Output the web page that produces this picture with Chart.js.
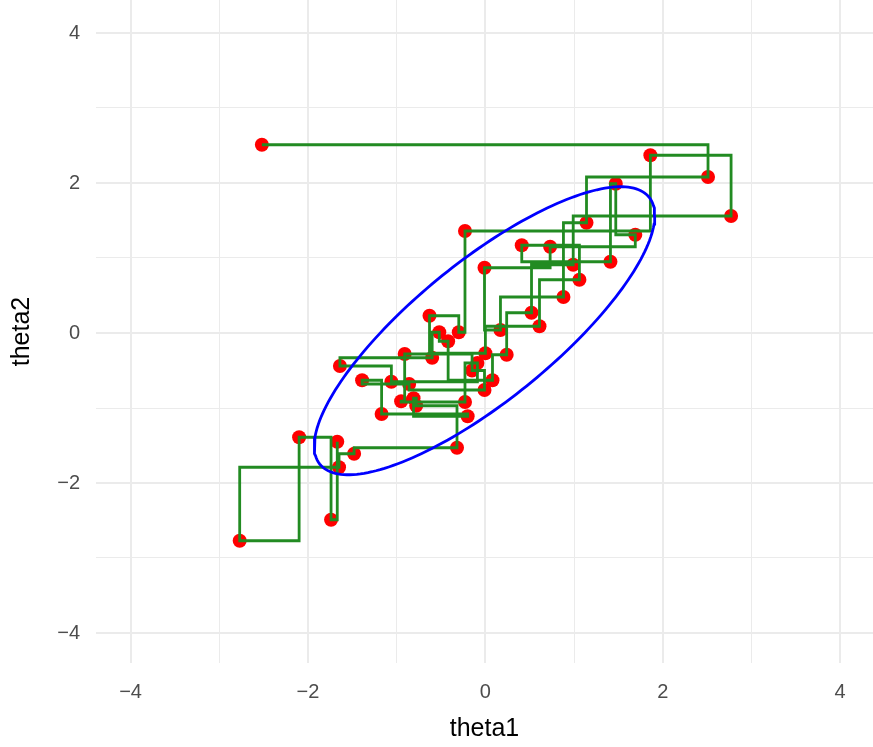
<!DOCTYPE html>
<html>
<head>
<meta charset="utf-8">
<script src="https://cdn.jsdelivr.net/npm/chart.js@4/dist/chart.umd.min.js"></script>
<style>
html,body{margin:0;padding:0;background:#fff;}
#wrap{width:873px;height:747px;position:relative;}
</style>
</head>
<body>
<div id="wrap"><canvas id="c" width="873" height="747"></canvas></div>
<script>
// Gibbs sampler chain (in sampling order)
const theta1 = [-2.52, 2.51, 1.14, 0.88, 0.17, -0.01, 0.73, 1.69, 1.47, 1.41,
  0.41, 1.06, 0.61, 0.00, -0.63, -0.30, -0.23, 1.86, 2.77, 0.99,
  0.52, 0.24, 0.08, -0.42, -0.52, -0.60, -1.64, -1.06, -0.09, -0.23,
  -0.95, -0.91, -0.15, -0.01, -0.86, -1.39, -1.17, -0.20, -0.81, -0.78,
  -0.32, -1.48, -1.65, -2.77, -2.10, -1.74, -1.67];
const theta2 = [2.51, 2.08, 1.47, 0.48, 0.04, 0.87, 1.15, 1.31, 1.99, 0.95,
  1.17, 0.71, 0.09, -0.27, 0.23, 0.01, 1.36, 2.37, 1.56, 0.91,
  0.27, -0.29, -0.63, -0.11, 0.01, -0.33, -0.44, -0.65, -0.40, -0.92,
  -0.91, -0.28, -0.50, -0.76, -0.68, -0.63, -1.08, -1.11, -0.87, -0.97,
  -1.53, -1.61, -1.79, -2.77, -1.39, -2.49, -1.45];
const xTicks = [-4, -2, 0, 2, 4];
const yTicks = [-4, -2, 0, 2, 4];
// Ellipse contour parameters
const ellCenter = [-0.01, 0.03];
const ellRadius = 1.92;
const ellRho = 0.8;

const chainPts = theta1.map((v, i) => ({x: v, y: theta2[i]}));
const ellPts = [];
for (let k = 0; k <= 200; k++) {
  const t = 2 * Math.PI * k / 200;
  ellPts.push({
    x: ellCenter[0] + ellRadius * Math.cos(t),
    y: ellCenter[1] + ellRadius * (ellRho * Math.cos(t) + Math.sqrt(1 - ellRho * ellRho) * Math.sin(t))
  });
}

const gridColor = '#ebebeb';
function allTicks(scale) {
  const arr = [];
  for (let v = -4; v <= 4; v++) arr.push({value: v});
  scale.ticks = arr;
}
function gridWidth(ctx) {
  const v = ctx.tick ? ctx.tick.value : 0;
  return (Math.abs(v) % 2 === 0) ? 2 : 1;
}
function noPad(s) {
  s.paddingTop = 0; s.paddingBottom = 0; s.paddingLeft = 0; s.paddingRight = 0;
}
const fontFam = '"Liberation Sans", Arial, Helvetica, sans-serif';

new Chart(document.getElementById('c'), {
  type: 'scatter',
  data: {
    datasets: [
      {
        label: 'ellipse',
        data: ellPts,
        showLine: true,
        borderColor: '#0000ff',
        borderWidth: 2.8,
        pointRadius: 0,
        fill: false,
        order: 1
      },
      {
        label: 'path',
        data: chainPts,
        showLine: true,
        stepped: 'before',
        borderColor: '#228b22',
        borderWidth: 2.8,
        pointRadius: 0,
        fill: false,
        order: 2
      },
      {
        label: 'draws',
        data: chainPts,
        showLine: false,
        pointRadius: 7,
        pointBackgroundColor: '#ff0000',
        pointBorderWidth: 0,
        pointBorderColor: '#ff0000',
        order: 3
      }
    ]
  },
  options: {
    responsive: false,
    animation: false,
    layout: {padding: 0, autoPadding: false},
    plugins: {legend: {display: false}, tooltip: {enabled: false}},
    scales: {
      x: {
        type: 'linear',
        min: -4.39,
        max: 4.37,
        afterBuildTicks: allTicks,
        afterFit: (s) => { s.height = 84; noPad(s); },
        border: {display: false},
        grid: {color: gridColor, lineWidth: gridWidth, drawTicks: false},
        ticks: {
          padding: 17,
          color: '#4d4d4d',
          font: {size: 20, family: fontFam},
          callback: (v) => xTicks.includes(v) ? (v < 0 ? '\u2212' + Math.abs(v) : String(v)) : ''
        },
        title: {display: true, text: 'theta1', color: '#000', font: {size: 25, family: fontFam}, padding: {top: 0, bottom: 3}}
      },
      y: {
        type: 'linear',
        min: -4.4,
        max: 4.44,
        afterBuildTicks: allTicks,
        afterFit: (s) => { s.width = 96; noPad(s); },
        border: {display: false},
        grid: {color: gridColor, lineWidth: gridWidth, drawTicks: false},
        ticks: {
          padding: 16,
          color: '#4d4d4d',
          font: {size: 20, family: fontFam},
          callback: (v) => yTicks.includes(v) ? (v < 0 ? '\u2212' + Math.abs(v) : String(v)) : ''
        },
        title: {display: true, text: 'theta2', color: '#000', font: {size: 25, family: fontFam}, padding: {top: 7, bottom: 6}}
      }
    }
  }
});
</script>
</body>
</html>
